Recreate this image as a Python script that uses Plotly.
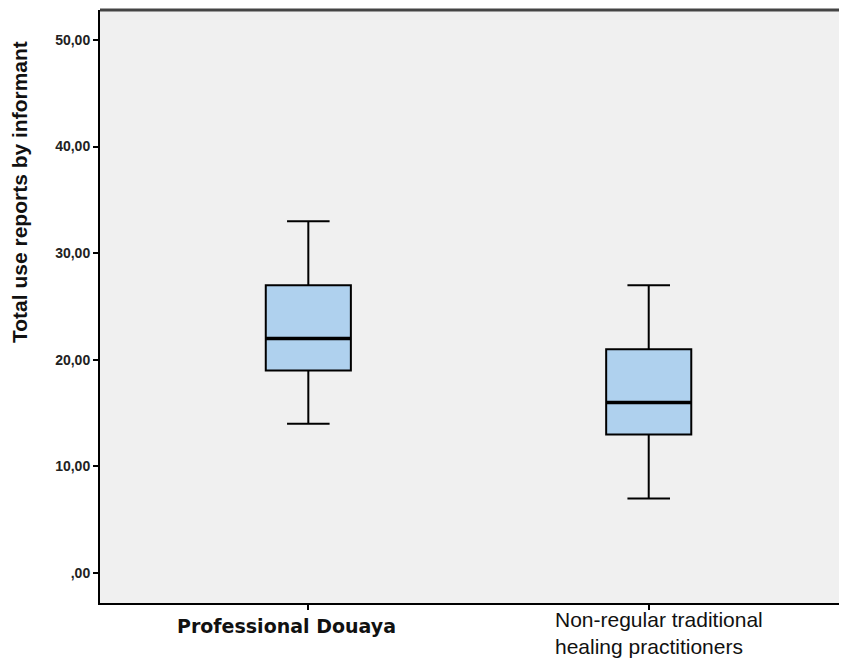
import plotly.graph_objects as go

categories = ["Professional Douaya", "Non-regular traditional healing practitioners"]
lower_whisker = [14, 7]
q1 = [19, 13]
median = [22, 16]
q3 = [27, 21]
upper_whisker = [33, 27]
tick_vals = [0, 10, 20, 30, 40, 50]
tick_text = [",00", "10,00", "20,00", "30,00", "40,00", "50,00"]

BOX_W = 0.25

fig = go.Figure()
fig.add_trace(go.Box(
    x=categories,
    q1=q1, median=median, q3=q3,
    lowerfence=lower_whisker, upperfence=upper_whisker,
    fillcolor="#AFD1EE",
    line=dict(color="black", width=2),
    width=BOX_W,
    whiskerwidth=0.5,
    boxpoints=False,
    hoverinfo="skip",
    showlegend=False,
))

# thicker median lines (SPSS style), derived from the data
for i, m in enumerate(median):
    fig.add_trace(go.Scatter(
        x=[i - BOX_W / 2, i + BOX_W / 2], y=[m, m],
        xaxis="x2", mode="lines",
        line=dict(color="black", width=3.5),
        showlegend=False, hoverinfo="skip",
    ))

W, H = 831, 651
ML, MR, MT, MB = 92, 0, 2, 56
PW, PH = W - ML - MR, H - MT - MB

xr = [-0.612, 1.559]
fig.update_layout(
    width=W, height=H,
    margin=dict(l=ML, r=MR, t=MT, b=MB, autoexpand=False),
    paper_bgcolor="white",
    plot_bgcolor="#F0F0F0",
    font=dict(family="Liberation Sans, Arial, sans-serif", color="#111"),
    xaxis=dict(
        type="category", range=xr, automargin=False,
        showticklabels=False, ticks="outside", ticklen=5, tickcolor="black", tickwidth=1.5,
        showline=True, linecolor="black", linewidth=2,
        showgrid=False, zeroline=False,
    ),
    xaxis2=dict(overlaying="x", range=xr, visible=False),
    yaxis=dict(
        range=[-2.81, 52.81], automargin=False,
        tickvals=tick_vals, ticktext=tick_text,
        ticks="outside", ticklen=5, tickcolor="black", tickwidth=1.5,
        tickfont=dict(size=14, color="#222", weight="bold"),
        showline=True, linecolor="black", linewidth=2,
        showgrid=False, zeroline=False,
    ),
)

# y axis title
fig.add_annotation(
    x=-80 / PW, xref="paper", y=1 - 182 / PH, yref="paper",
    text="<b>Total use reports by informant</b>",
    showarrow=False, textangle=-90, xanchor="center", yanchor="middle",
    font=dict(size=21, color="#111"),
)

# top border of plot frame
fig.add_shape(type="line", xref="paper", yref="paper", x0=0, x1=1, y0=1, y1=1,
              line=dict(color="#444", width=3))

fig.add_annotation(
    x=categories[0], xref="x", y=-10 / PH, yref="paper",
    text="<b>" + categories[0] + "</b>",
    showarrow=False, xanchor="center", yanchor="top", xshift=-22,
    font=dict(family="DejaVu Sans, Verdana, sans-serif", size=19, color="#111"),
)
fig.add_annotation(
    x=categories[1], xref="x", y=-3 / PH, yref="paper",
    text="Non-regular traditional<br>healing practitioners",
    showarrow=False, xanchor="left", yanchor="top", xshift=-96, align="left",
    font=dict(family="Liberation Sans, sans-serif", size=21, color="#111"),
)

fig.write_html("out.html")
